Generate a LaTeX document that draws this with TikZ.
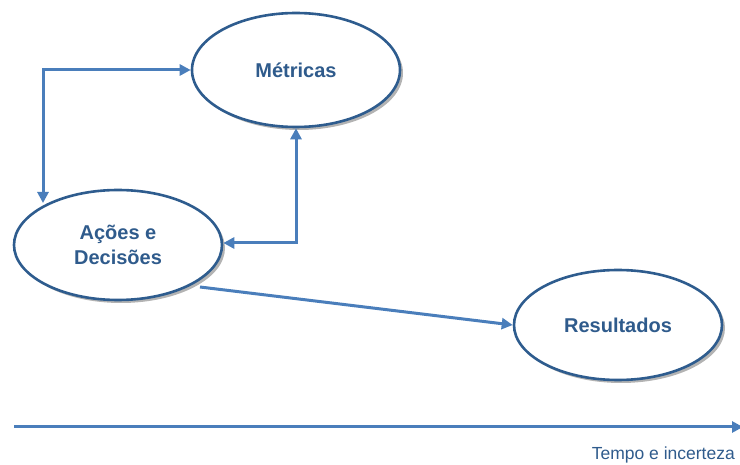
\documentclass[tikz,border=0pt]{standalone}
\usepackage{fontspec}
\setmainfont{Liberation Sans}
\usetikzlibrary{shapes.geometric,arrows.meta,shadows}
\definecolor{edgeblue}{HTML}{2E5C8E}
\definecolor{arrowblue}{HTML}{4A7EBB}
\definecolor{textblue}{HTML}{2F5B8C}
\tikzset{
  bubble/.style={ellipse, draw=edgeblue, line width=2.6pt, fill=white,
    minimum width=208pt, minimum height=114pt, inner sep=0pt,
    text=textblue, font=\bfseries\fontsize{20}{25}\selectfont, align=center,
    drop shadow={shadow xshift=3pt, shadow yshift=-3pt, fill=black!50, opacity=0.6}},
  tip/.style={Triangle[length=11pt,width=11pt]},
  conn/.style={draw=arrowblue, line width=3pt, -{Triangle[length=11pt,width=11pt]}},
  conn2/.style={draw=arrowblue, line width=3pt, {Triangle[length=11pt,width=11pt]}-{Triangle[length=11pt,width=11pt]}},
}
\begin{document}
\begin{tikzpicture}[x=1pt,y=-1pt]
\useasboundingbox (0,0) rectangle (740,465);
\node[bubble] (met) at (296,70) {Métricas};
\node[bubble, minimum height=110pt] (acd) at (118,245) {Ações e\\Decisões};
\node[bubble, minimum height=110pt] (res) at (618,325) {Resultados};
\coordinate (c1) at (43,70);
\coordinate (c0) at (43,203);
\coordinate (c2) at (296,243);
\draw[conn2] (c0) -- (c1) -- (met.west);
\draw[conn2] (met.south) -- (c2) -- (acd.east |- c2);
\coordinate (a1) at (200,287);
\draw[conn] (a1) -- (res.west);
\coordinate (t0) at (14,427);
\coordinate (t1) at (743,427);
\draw[conn] (t0) -- (t1);
\node[anchor=base east, text=textblue, font=\fontsize{17.5}{21}\selectfont, inner sep=0pt] (lbl) at (735,460) {Tempo e incerteza};
\end{tikzpicture}
\end{document}
